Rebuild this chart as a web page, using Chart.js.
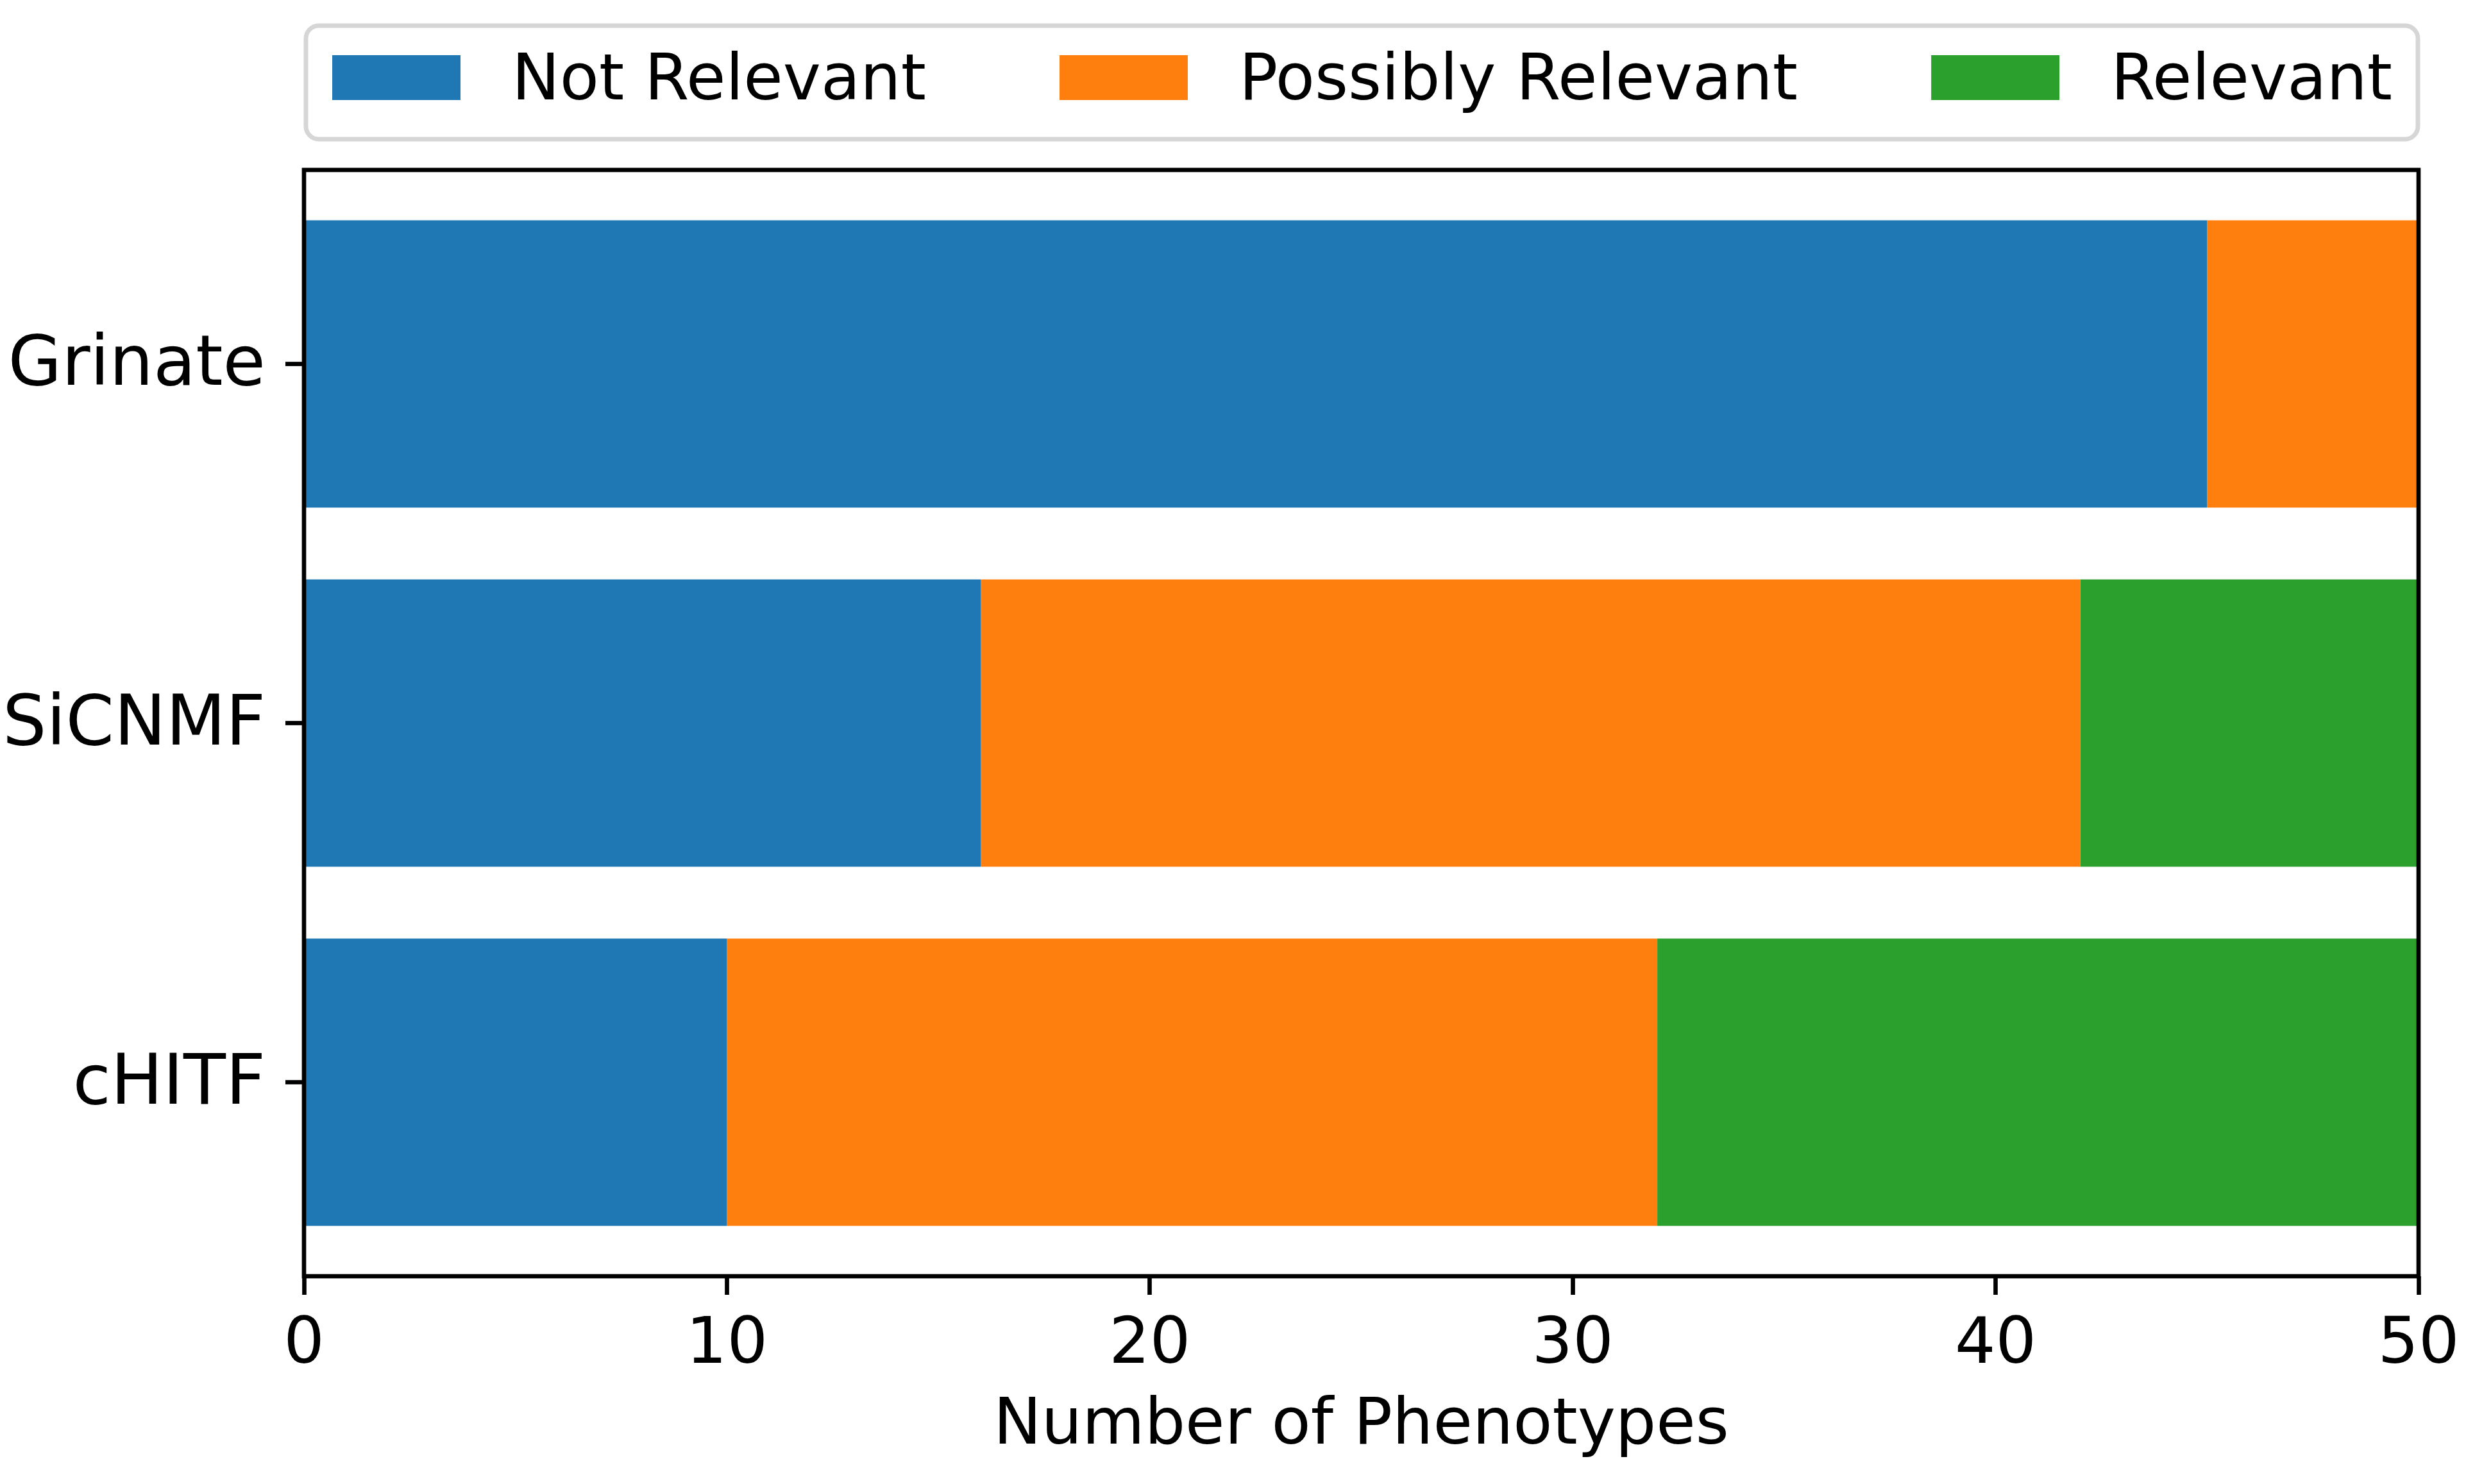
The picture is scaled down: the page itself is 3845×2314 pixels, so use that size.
<!DOCTYPE html>
<html><head><meta charset="utf-8">
<script src="https://cdn.jsdelivr.net/npm/chart.js@4"></script>
<style>html,body{margin:0;padding:0;background:#fff}canvas{display:block}</style>
</head><body>
<canvas id="c" width="3845" height="2314"></canvas>
<script>
// ---- data ----
const categories = ['Grinate', 'SiCNMF', 'cHITF'];
const seriesNames = ['Not Relevant', 'Possibly Relevant', 'Relevant'];
const notRelevant = [45, 16, 10];
const possiblyRelevant = [5, 26, 22];
const relevant = [0, 8, 18];
const xTickValues = [0, 10, 20, 30, 40, 50];
const xTitle = 'Number of Phenotypes';
const colors = ['#1f77b4', '#ff7f0e', '#2ca02c'];

// ---- styling ----
const FONT = "'DejaVu Sans', sans-serif";
const FS = 100;
const FS_Y = 108;
const LW = 6.67;
const n = categories.length;
const posOf = i => n - 1 - i;  // first category at top

function makeSeries(vals) {
  return vals.map((v, i) => ({ x: v, y: posOf(i) }));
}
const seriesValues = [notRelevant, possiblyRelevant, relevant];
const datasets = seriesNames.map((name, k) => ({
  label: name,
  data: makeSeries(seriesValues[k]),
  backgroundColor: colors[k],
  borderWidth: 0,
  stack: 's',
  barPercentage: 0.8,
  categoryPercentage: 1.0
}));

const framePlugin = {
  id: 'frame',
  afterDatasetsDraw(chart) {
    const { ctx, chartArea: a } = chart;
    ctx.save();
    ctx.strokeStyle = '#000';
    ctx.lineWidth = LW;
    ctx.lineJoin = 'miter';
    ctx.strokeRect(a.left, a.top, a.right - a.left, a.bottom - a.top);
    ctx.restore();
  }
};

const legendPlugin = {
  id: 'mplLegend',
  afterDraw(chart) {
    const { ctx, chartArea: a } = chart;
    const x0 = a.left + 3, x1 = a.right - 1, y0 = 40, y1 = 217;
    ctx.save();
    ctx.beginPath();
    ctx.roundRect(x0, y0, x1 - x0, y1 - y0, 20);
    ctx.fillStyle = 'rgba(255,255,255,0.8)';
    ctx.fill();
    ctx.lineWidth = 7;
    ctx.strokeStyle = '#d6d6d6';
    ctx.stroke();
    ctx.font = FS + 'px ' + FONT;
    const patchW = 200, patchH = 70, textPad = 80;
    const items = chart.data.datasets.map(d => ({
      label: d.label, color: d.backgroundColor,
      w: patchW + textPad + ctx.measureText(d.label).width
    }));
    const innerL = x0 + 41, innerR = x1 - 40;
    const total = items.reduce((s, it) => s + it.w, 0);
    const gap = (innerR - innerL - total) / (items.length - 1);
    let x = innerL;
    const patchTop = 86, baseline = 155;
    items.forEach(it => {
      ctx.fillStyle = it.color;
      ctx.fillRect(x, patchTop, patchW, patchH);
      ctx.fillStyle = '#000';
      ctx.textBaseline = 'alphabetic';
      ctx.textAlign = 'left';
      ctx.fillText(it.label, x + patchW + textPad, baseline);
      x += it.w + gap;
    });
    ctx.restore();
  }
};

new Chart(document.getElementById('c'), {
  type: 'bar',
  data: { datasets },
  options: {
    indexAxis: 'y',
    responsive: false,
    animation: false,
    devicePixelRatio: 1,
    layout: { padding: { top: 265, right: 74, left: 0, bottom: 0 } },
    plugins: { legend: { display: false }, tooltip: { enabled: false } },
    scales: {
      x: {
        type: 'linear',
        stacked: true,
        min: 0, max: 50,
        afterBuildTicks: s => { s.ticks = xTickValues.map(v => ({ value: v })); },
        afterFit: s => { s.height = 324; s.paddingLeft = 0; s.paddingRight = 0; },
        border: { display: false },
        grid: { display: true, drawOnChartArea: false, drawTicks: true, tickLength: 29, tickWidth: LW, tickColor: '#000' },
        ticks: { font: { family: FONT, size: FS }, color: '#000', padding: 20, maxRotation: 0, autoSkip: false },
        title: { display: true, text: xTitle, font: { family: FONT, size: FS }, color: '#000', padding: { top: 0, bottom: 29 } }
      },
      y: {
        type: 'linear',
        offset: false,
        min: -0.54, max: 2.54,
        afterBuildTicks: s => { s.ticks = categories.map((c, i) => ({ value: posOf(i) })); },
        afterFit: s => { s.width = 474; s.paddingTop = 0; s.paddingBottom = 0; },
        border: { display: false },
        grid: { display: true, offset: false, drawOnChartArea: false, drawTicks: true, tickLength: 29, tickWidth: LW, tickColor: '#000' },
        ticks: {
          font: { family: FONT, size: FS_Y }, color: '#000', padding: 31, autoSkip: false, labelOffset: 5,
          callback: v => categories[n - 1 - v]
        }
      }
    }
  },
  plugins: [framePlugin, legendPlugin]
});
</script>
</body></html>
